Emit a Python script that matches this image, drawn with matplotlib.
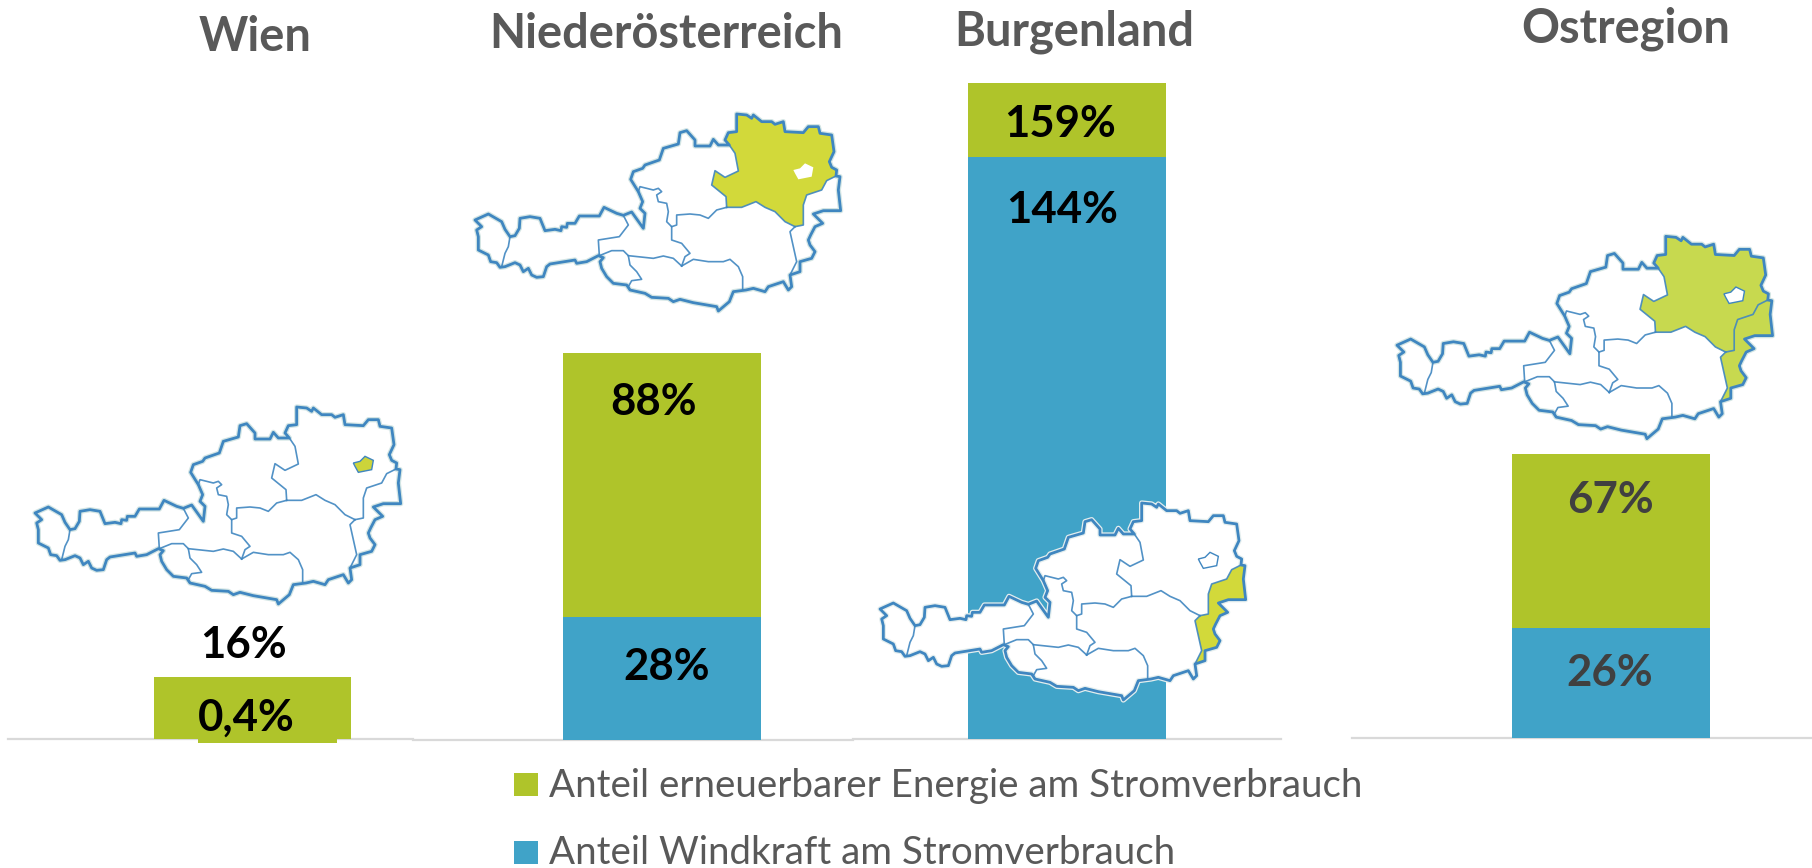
import matplotlib
matplotlib.use("Agg")
import matplotlib.pyplot as plt
from matplotlib.patches import Polygon, Rectangle

W, H = 1812, 868
plt.rcParams['font.family'] = ['Lato', 'DejaVu Sans']

# ---- data -------------------------------------------------------------
regions = ["Wien", "Niederösterreich", "Burgenland", "Ostregion"]
renewable_share = [16, 88, 159, 67]
# bar heights (the Burgenland wind bar is drawn a little
# shorter than its printed 144% on that panel's scale)
wind_share = [0.4, 28, 141, 26]
renewable_labels = ["16%", "88%", "159%", "67%"]
wind_labels = ["0,4%", "28%", "144%", "26%"]
legend_labels = ["Anteil erneuerbarer Energie am Stromverbrauch",
                 "Anteil Windkraft am Stromverbrauch"]

GREEN, BLUE = "#afc42a", "#40a3c8"
GREY = "#595959"

# ---- panel layout in pixels -------------------------------------------
panel_left = [8, 413, 853, 1352]
panel_right = [413, 853, 1281, 1812]
panel_base = [739, 740, 739, 738]
bar_left = [154, 563, 968, 1512]
bar_right = [351, 761, 1166, 1710]
px_per_pct = [3.9, 4.4, 4.126, 4.24]

fig = plt.figure(figsize=(W / 100, H / 100), dpi=100, facecolor="white")

for i in range(4):
    l, r, b = panel_left[i], panel_right[i], panel_base[i]
    ax = fig.add_axes([l / W, 1 - b / H, (r - l) / W, b / H])
    bw = bar_right[i] - bar_left[i]
    c = (bar_left[i] + bar_right[i]) / 2
    ax.bar([0], [renewable_share[i]], width=1, color=GREEN, zorder=2)
    wind_colour = GREEN if i == 0 else BLUE
    ax.bar([0], [wind_share[i]], width=1, color=wind_colour, zorder=3)
    ax.set_xlim((l - c) / bw, (r - c) / bw)
    ax.set_ylim(0, b / px_per_pct[i])
    ax.patch.set_alpha(0)
    for s in ("top", "left", "right"):
        ax.spines[s].set_visible(False)
    ax.spines["bottom"].set_color("#d9d9d9")
    ax.spines["bottom"].set_linewidth(1.6)
    ax.set_xticks([])
    ax.set_yticks([])

# ---- overlay in pixel coordinates: maps, texts, legend ----------------
ov = fig.add_axes([0, 0, 1, 1])
ov.set_xlim(0, W)
ov.set_ylim(H, 0)
ov.axis("off")
ov.patch.set_alpha(0)

# retouched patch under the Wien bar
ov.add_patch(Rectangle((198, 736), 139, 7, color=GREEN, lw=0, zorder=2))

# Austria outline, traced (decorative); segments share end points
rest_outer = [(990,555),(995,590),(985,600),(970,575),(925,590),(915,605),(880,595),(858,600),(820,605),(808,635),
    (775,663),(770,650),(700,638),(660,628),(640,635),(625,625),(575,622),(555,610),(510,600),(500,585),(460,580),
    (440,560),(425,535),(420,515),(430,503),(415,497),(380,515),(350,520),(345,510),(270,522),(260,530),(250,560),
    (230,562),(215,555),(205,535),(190,545),(180,525),(165,518),(135,530),(120,532),(110,518),(92,515),(85,495),
    (55,480),(55,440),(50,420),(65,410),(45,390),(85,372),(125,395),(135,418),(150,440),(165,437),(178,415),(180,385),
    (210,380),(240,385),(255,422),(285,418),(303,422),(305,410),(320,412),(322,400),(345,400),(358,378),(418,378),
    (432,352),(470,370),(490,376),(515,366),(550,415),(555,370),(540,355),(548,335),(535,305),(512,268),(520,245),
    (548,235),(555,225),(598,210),(610,175),(655,162),(660,128),(680,122),(705,150),(705,168),(750,168),(760,148),
    (775,165),(808,165)]
noe_outer = [(808,165),(795,150),(805,128),(830,125),(830,72),(860,75),(875,85),(880,75),(905,95),(935,95),(945,103),
    (970,95),(975,125),(1030,128),(1045,110),(1075,110),(1080,130),(1115,135),(1122,185),(1108,215),(1115,232),
    (1130,240),(1128,258)]
bgld_outer = [(1128,258),(1140,260),(1135,300),(1142,362),(1090,362),(1060,372),(1088,400),(1065,410),(1052,435),
    (1045,450),(1050,465),(1065,485),(1055,505),(1020,515),(1020,545),(990,555)]
noe_west = [(808,165),(825,190),(835,243),(795,262),(765,242),(755,285),(798,320),(800,352)]
noe_south = [(800,352),(845,352),(888,335),(915,352),(945,365),(975,395),(1005,410)]
noe_bgld = [(1005,410),(1030,405),(1030,345),(1040,315),(1085,300),(1100,272),(1128,258)]
bgld_west = [(990,555),(1010,515),(1000,470),(990,425),(1005,410)]
wien = [(1000,240),(1020,235),(1035,220),(1060,232),(1055,260),(1015,268),(1005,250),(1000,240)]
inner = [
    [(150,440),(145,470),(135,490),(125,530)],
    [(490,376),(505,405),(478,440),(415,450),(418,497)],
    [(418,497),(455,482),(490,482),(505,497),(510,525),(530,545),(545,568),(515,572),(505,590),(510,600)],
    [(505,497),(580,505),(610,498),(640,505),(665,528)],
    [(535,305),(540,290),(580,300),(595,295),(605,305),(590,315),(595,335),(620,340),(625,365),(620,395),(635,410),
     (635,450),(665,460),(690,490),(675,500),(665,528)],
    [(665,528),(700,508),(745,515),(790,515),(810,508),(835,530),(848,560),(848,600)],
    [(635,410),(650,405),(650,375),(690,372),(720,375),(745,385),(770,360),(800,352)],
]
noe_poly = noe_outer + noe_bgld[::-1] + noe_south[::-1] + noe_west[::-1]
bgld_poly = bgld_outer + bgld_west + noe_bgld


def draw_map(x0, y0, s, hl_noe=None, hl_bgld=None, hl_wien=None, wien_line=True, halo="#d3e5e4", z=5):
    def T(seq):
        return [(x0 + s * x / 3, y0 + s * y / 3) for x, y in seq]
    LINE = "#3f86c0"
    outer = T(rest_outer + noe_outer[1:] + bgld_outer[1:])
    ov.add_patch(Polygon(outer, closed=True, fc="white", ec=halo, lw=3.8, joinstyle="round", zorder=z))
    if hl_noe:
        ov.add_patch(Polygon(T(noe_poly), closed=True, fc=hl_noe, ec="none", zorder=z + 1))
    if hl_bgld:
        ov.add_patch(Polygon(T(bgld_poly), closed=True, fc=hl_bgld, ec="none", zorder=z + 1))
    ov.add_patch(Polygon(T(wien), closed=True, fc=hl_wien or "white",
                         ec=LINE if wien_line else "none", lw=1.0, zorder=z + 2))
    for seg in inner + [noe_west, noe_south, noe_bgld, bgld_west]:
        xs, ys = zip(*T(seg))
        ov.plot(xs, ys, color=LINE, lw=1.2, alpha=0.9, zorder=z + 3, solid_joinstyle="round")
    ov.add_patch(Polygon(outer, closed=True, fc="none", ec=LINE, lw=2.0, joinstyle="round", zorder=z + 4))


draw_map(20, 383, 1.0, hl_wien="#ccd43a")
draw_map(460, 90, 1.0, hl_noe="#d2d93a", wien_line=False)
draw_map(865, 479, 1.0, hl_bgld="#d2d93a", halo="#e4eeee")
draw_map(1381.6, 211.7, 1.027, hl_noe="#c7d94f", hl_bgld="#c7d94f")

# titles
title_x = [255, 666, 1074, 1626]
title_y = [37, 34, 32, 29]
for t, x, y in zip(regions, title_x, title_y):
    ov.text(x, y, t, ha="center", va="center", fontsize=33.8, fontweight="bold", color=GREY, zorder=20)

# value labels
ren_xy = [(243, 645), (654, 402), (1060, 124), (1610, 500)]
wind_xy = [(246, 718), (667, 667), (1062, 210), (1610, 673)]
label_col = ["black", "black", "black", "#404040"]
for i in range(4):
    for txt, (x, y) in ((renewable_labels[i], ren_xy[i]), (wind_labels[i], wind_xy[i])):
        ov.text(x, y, txt, ha="center", va="center", fontsize=31.5, fontweight="bold", color=label_col[i], zorder=20)

# legend
for col, lab, y0, y1 in zip((GREEN, BLUE), legend_labels, (773, 841), (796, 864)):
    ov.add_patch(Rectangle((514, y0), 24, y1 - y0, color=col, lw=0))
    ov.text(549, (y0 + y1) / 2 + 1, lab, ha="left", va="center", fontsize=27.75, color=GREY)

fig.savefig("out.png", dpi=100, facecolor="white")
